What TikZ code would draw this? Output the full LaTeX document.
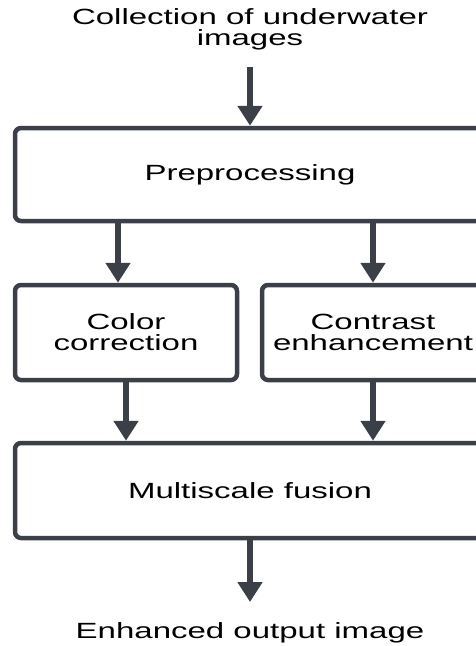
\documentclass[tikz,border=0pt]{standalone}
\usepackage{xcolor}
\usepackage{fontspec}
\setmainfont{Liberation Sans}[FakeStretch=1.5]
\usepackage{tikz}
\usetikzlibrary{arrows.meta}

\definecolor{edgegray}{HTML}{3B4048}

\tikzset{
    box/.style={draw=edgegray, line width=4.5pt, rounded corners=6pt, inner sep=0pt,
        align=center, font=\fontsize{22}{21}\selectfont},
    lbl/.style={inner sep=0pt, align=center, font=\fontsize{22}{21}\selectfont},
    arr/.style={draw=edgegray, line width=6pt, -{Triangle[width=24pt,length=20pt]}}
}

\begin{document}
\begin{tikzpicture}[x=1pt,y=-1pt]
    \useasboundingbox (0,0) rectangle (475,646);
    %\draw[step=50,gray,very thin] (0,0) grid (475,646);

    \node[lbl] (coll) at (250,29) {Collection of underwater\\images};
    \node[box, minimum width=470pt, minimum height=93pt] (prep) at (250,174.5) {Preprocessing};

    \node[box, minimum width=222pt, minimum height=95pt] (color) at (126,332.5) {Color\\correction};
    \node[box, minimum width=222pt, minimum height=95pt] (contrast) at (373,332.5) {Contrast\\enhancement};

    \node[box, minimum width=470pt, minimum height=95pt] (fusion) at (250,490.5) {Multiscale fusion};
    \node[lbl] (out) at (250,633) {Enhanced output image};

    \coordinate (top) at (250,67);
    \coordinate (bot) at (250,602);

    \draw[arr] (top) -- (prep.north);
    \draw[arr] ([xshift=-8pt]color.north |- prep.south) -- ([xshift=-8pt]color.north);
    \draw[arr] (contrast.north |- prep.south) -- (contrast.north);
    \draw[arr] (color.south) -- (color.south |- fusion.north);
    \draw[arr] (contrast.south) -- (contrast.south |- fusion.north);
    \draw[arr] (fusion.south) -- (bot);

\end{tikzpicture}
\end{document}
